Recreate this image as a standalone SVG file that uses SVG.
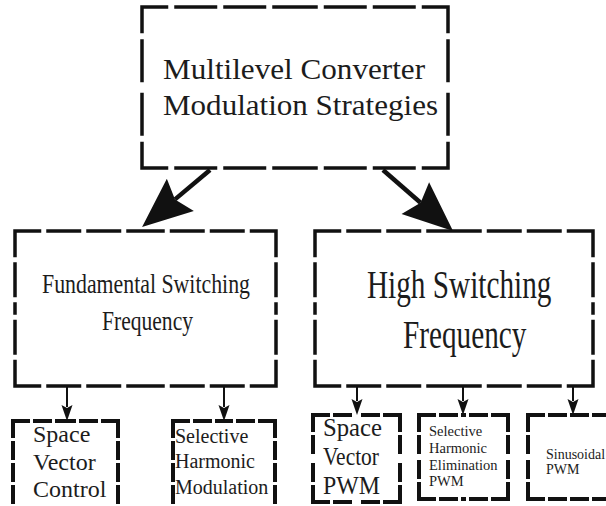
<svg xmlns="http://www.w3.org/2000/svg" width="606" height="506" viewBox="0 0 606 506">
  <style>
    .box { fill: none; stroke: #111; stroke-linecap: square; }
    .b1 { stroke-width: 3.5; stroke-dasharray: 39.5 9.5; stroke-dashoffset: 15; }
    .b2 { stroke-width: 3.5; stroke-dasharray: 31.5 8.5; stroke-dashoffset: 7; }
    .b3 { stroke-width: 4; stroke-dasharray: 15 7; }
    text { font-family: "Liberation Serif", "Times New Roman", serif; fill: #1c1c1c; }
    .big { stroke: #111; stroke-width: 4.5; fill: none; }
    .small { stroke: #111; stroke-width: 2; fill: none; }
  </style>
  <defs>
    <marker id="headBig" markerUnits="userSpaceOnUse" viewBox="-10 -24 56 48" refX="0" refY="0" markerWidth="56" markerHeight="48" orient="auto">
      <path d="M43,0 L-7,-21 L0,0 L-7,21 Z" fill="#111"/>
    </marker>
    <marker id="headSmall" markerUnits="userSpaceOnUse" viewBox="-4 -7 22 14" refX="0" refY="0" markerWidth="22" markerHeight="14" orient="auto">
      <path d="M14,0 L-2,-5.5 L1,0 L-2,5.5 Z" fill="#111"/>
    </marker>
  </defs>

  <!-- connectors -->
  <g id="connectors">
    <line class="big" x1="210" y1="170" x2="175" y2="199.4" marker-end="url(#headBig)"/>
    <line class="big" x1="383" y1="170" x2="420.6" y2="202.7" marker-end="url(#headBig)"/>
    <line class="small" x1="67" y1="386" x2="67" y2="407" marker-end="url(#headSmall)"/>
    <line class="small" x1="224" y1="386" x2="224" y2="407" marker-end="url(#headSmall)"/>
    <line class="small" x1="357" y1="386" x2="357" y2="401" marker-end="url(#headSmall)"/>
    <line class="small" x1="463" y1="386" x2="463" y2="401" marker-end="url(#headSmall)"/>
    <line class="small" x1="573" y1="386" x2="573" y2="401" marker-end="url(#headSmall)"/>
  </g>

  <!-- each border side is drawn from its two corners toward the middle so corners stay solid -->
  <g id="root">
    <path class="box b1" d="M142,7 H295 M448,7 H295 M448,7 V87.5 M448,168 V87.5 M448,168 H295 M142,168 H295 M142,168 V87.5 M142,7 V87.5"/>
    <text x="163" y="79" font-size="30" textLength="262" lengthAdjust="spacingAndGlyphs">Multilevel Converter</text>
    <text x="163" y="115" font-size="30" textLength="275" lengthAdjust="spacingAndGlyphs">Modulation Strategies</text>
  </g>

  <g id="fundamental">
    <path class="box b2" d="M15,231 H145.5 M276,231 H145.5 M276,231 V308.5 M276,386 V308.5 M276,386 H145.5 M15,386 H145.5 M15,386 V308.5 M15,231 V308.5"/>
    <text x="42" y="293" font-size="27" textLength="208" lengthAdjust="spacingAndGlyphs">Fundamental Switching</text>
    <text x="102" y="330" font-size="27" textLength="91" lengthAdjust="spacingAndGlyphs">Frequency</text>
  </g>

  <g id="high">
    <path class="box b2" d="M315,231 H454 M593,231 H454 M593,231 V308.5 M593,386 V308.5 M593,386 H454 M315,386 H454 M315,386 V308.5 M315,231 V308.5"/>
    <!-- narrow lettering: horizontally condensed type -->
    <g transform="scale(0.75,1)">
      <text x="489.3" y="298" font-size="39">High Switching</text>
      <text x="537.3" y="348" font-size="39">Frequency</text>
    </g>
  </g>

  <g id="svc">
    <path class="box b3" d="M13,421 H65.5 M118,421 H65.5 M118,421 V521 M13,421 V521"/>
    <text x="33" y="442" font-size="24">Space</text>
    <text x="33" y="470" font-size="24">Vector</text>
    <text x="33" y="497" font-size="24">Control</text>
  </g>

  <g id="shm">
    <path class="box b3" d="M173,421 H224 M275,421 H224 M275,421 V521 M173,421 V521"/>
    <text x="175" y="443" font-size="20">Selective</text>
    <text x="175" y="468" font-size="20">Harmonic</text>
    <text x="175" y="494" font-size="20">Modulation</text>
  </g>

  <g id="svpwm">
    <path class="box b3" d="M313,415 H356.5 M400,415 H356.5 M400,415 V458.5 M400,502 V458.5 M400,502 H356.5 M313,502 H356.5 M313,502 V458.5 M313,415 V458.5"/>
    <text x="323" y="436" font-size="25" textLength="59" lengthAdjust="spacingAndGlyphs">Space</text>
    <text x="323" y="465" font-size="25" textLength="56" lengthAdjust="spacingAndGlyphs">Vector</text>
    <text x="323" y="494" font-size="25" textLength="57" lengthAdjust="spacingAndGlyphs">PWM</text>
  </g>

  <g id="shepwm">
    <path class="box b3" d="M419,415 H463.5 M508,415 H463.5 M508,415 V457 M508,499 V457 M508,499 H463.5 M419,499 H463.5 M419,499 V457 M419,415 V457"/>
    <text x="429" y="436" font-size="14.5">Selective</text>
    <text x="429" y="453" font-size="14.5">Harmonic</text>
    <text x="429" y="470" font-size="14.5">Elimination</text>
    <text x="429" y="486" font-size="14.5">PWM</text>
  </g>

  <g id="spwm">
    <path class="box b3" d="M528,415 H610 M528,499 H610 M528,499 V457 M528,415 V457"/>
    <text x="546" y="459" font-size="14">Sinusoidal</text>
    <text x="546" y="474" font-size="14">PWM</text>
  </g>
</svg>
